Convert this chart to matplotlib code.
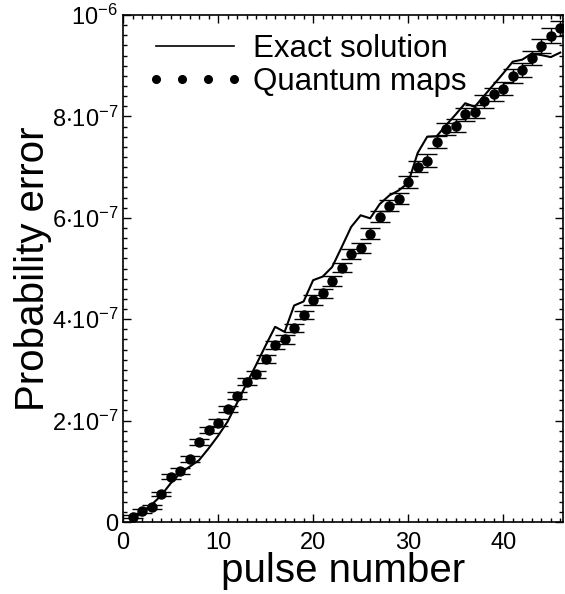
import numpy as np
import matplotlib
matplotlib.use("Agg")
import matplotlib.pyplot as plt
from matplotlib.lines import Line2D
from matplotlib.ticker import MultipleLocator

plt.rcParams['font.family'] = ['Liberation Sans', 'DejaVu Sans']
plt.rcParams['mathtext.fontset'] = 'custom'
plt.rcParams['mathtext.rm'] = 'Liberation Sans'
plt.rcParams['mathtext.it'] = 'Liberation Sans:italic'

# Datos (probabilidad en unidades de 1e-7)
pulses = list(range(1, 47))
maps_vals = [0.105, 0.217, 0.296, 0.55, 0.89, 1.01, 1.24, 1.57, 1.81, 1.96,
             2.23, 2.49, 2.77, 2.91, 3.21, 3.49, 3.60, 3.83, 4.08, 4.38,
             4.51, 4.75, 5.02, 5.28, 5.40, 5.69, 6.02, 6.24, 6.38, 6.71,
             7.01, 7.13, 7.50, 7.76, 7.82, 8.04, 8.09, 8.30, 8.44, 8.55,
             8.80, 8.91, 9.15, 9.39, 9.59, 9.74]
maps_err = [0.035, 0.04, 0.04, 0.045, 0.05, 0.055, 0.055, 0.06, 0.06, 0.065,
            0.065, 0.07, 0.07, 0.075, 0.075, 0.08, 0.08, 0.085, 0.085, 0.09,
            0.09, 0.095, 0.095, 0.10, 0.10, 0.105, 0.105, 0.11, 0.11, 0.115,
            0.115, 0.12, 0.12, 0.12, 0.125, 0.125, 0.13, 0.13, 0.13, 0.135,
            0.135, 0.14, 0.14, 0.14, 0.145, 0.145]
exact_vals = [0.07, 0.20, 0.34, 0.52, 0.76, 0.96, 1.09, 1.22, 1.45, 1.70,
              1.98, 2.35, 2.73, 3.10, 3.48, 3.85, 3.75, 4.27, 4.35, 4.77,
              4.84, 5.03, 5.42, 5.82, 6.05, 5.99, 6.27, 6.44, 6.54, 6.69,
              7.28, 7.60, 7.61, 7.83, 8.04, 8.26, 8.19, 8.41, 8.63, 8.85,
              9.08, 9.12, 9.24, 9.21, 9.17, 9.26]
ytick_vals = [0, 2, 4, 6, 8, 10]
ytick_labels = ['0', r'$\mathregular{2{\cdot}10^{-7}}$', r'$\mathregular{4{\cdot}10^{-7}}$',
                r'$\mathregular{6{\cdot}10^{-7}}$', r'$\mathregular{8{\cdot}10^{-7}}$',
                r'$\mathregular{10^{-6}}$']

fig = plt.figure(figsize=(5.65, 5.94), dpi=100)
ax = fig.add_axes([0.2177, 0.1212, 0.779, 0.8535])

ax.plot(pulses, exact_vals, 'k-', lw=1.5)
ax.errorbar(pulses, maps_vals, yerr=maps_err, fmt='o', color='k', ms=6.5,
            capsize=7, elinewidth=1, capthick=1)

ax.set_xlim(0, 46.3)
ax.set_ylim(0, 10)
ax.xaxis.set_major_locator(MultipleLocator(10))
ax.xaxis.set_minor_locator(MultipleLocator(1))
ax.set_yticks(ytick_vals)
ax.set_yticklabels(ytick_labels)
ax.yaxis.set_minor_locator(MultipleLocator(0.2))
ax.tick_params(which='both', direction='in', top=True, right=True, labelsize=17, width=1)
ax.tick_params(which='major', length=6)
ax.tick_params(which='minor', length=3)
ax.tick_params(axis='x', which='major', pad=7)
for s in ax.spines.values():
    s.set_linewidth(1.2)

ax.set_xlabel("pulse number", fontsize=29, labelpad=-1)
ax.set_ylabel("Probability error", fontsize=29, labelpad=0)

handles = [Line2D([], [], color='k', lw=1.2),
           Line2D([], [], color='k', ls='none', marker='o', ms=5.5)]
ax.legend(handles, ["Exact solution", "Quantum maps"], loc='upper left',
          bbox_to_anchor=(0.054, 0.962), frameon=False, fontsize=22.5, numpoints=4,
          handlelength=3.1, handletextpad=0.3, labelspacing=0.1,
          borderpad=0, borderaxespad=0)

fig.savefig("out.png", dpi=100)
